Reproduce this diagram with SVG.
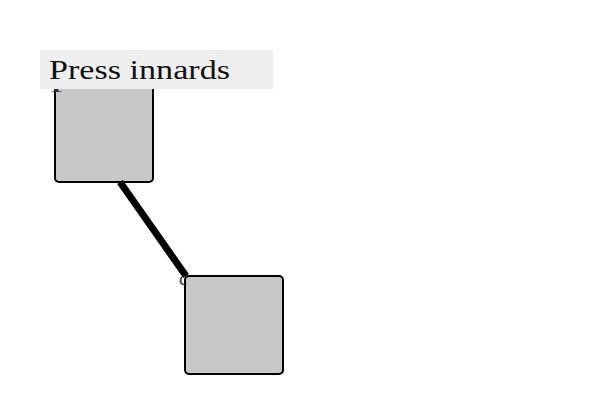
<svg xmlns="http://www.w3.org/2000/svg" width="600" height="400" viewBox="0 0 600 400">
<style>
.node{fill:#c8c8c8;stroke:#000;stroke-width:2}
.port{font-family:"Liberation Serif",serif;font-size:19px;fill:#333}
.lbl{font-family:"Liberation Serif",serif;font-size:28px;fill:#111}
</style>
<rect width="600" height="400" fill="#fff"/>
<g id="node-a">
<rect class="node" x="55" y="84" width="98" height="98" rx="4"/>
<text class="port" x="50" y="92" textLength="13" lengthAdjust="spacingAndGlyphs">I</text>
</g>
<g id="node-b">
<rect class="node" x="185" y="276" width="98" height="98" rx="4"/>
</g>
<g id="connectors">
<line x1="120" y1="182" x2="186" y2="276" stroke="#000" stroke-width="7"/>
</g>
<text class="port" x="179" y="285">c</text>
<g id="label">
<rect x="40" y="50" width="233" height="39" fill="#efefef"/>
<text class="lbl" x="49" y="79" textLength="181" lengthAdjust="spacingAndGlyphs">Press innards</text>
</g>
</svg>
